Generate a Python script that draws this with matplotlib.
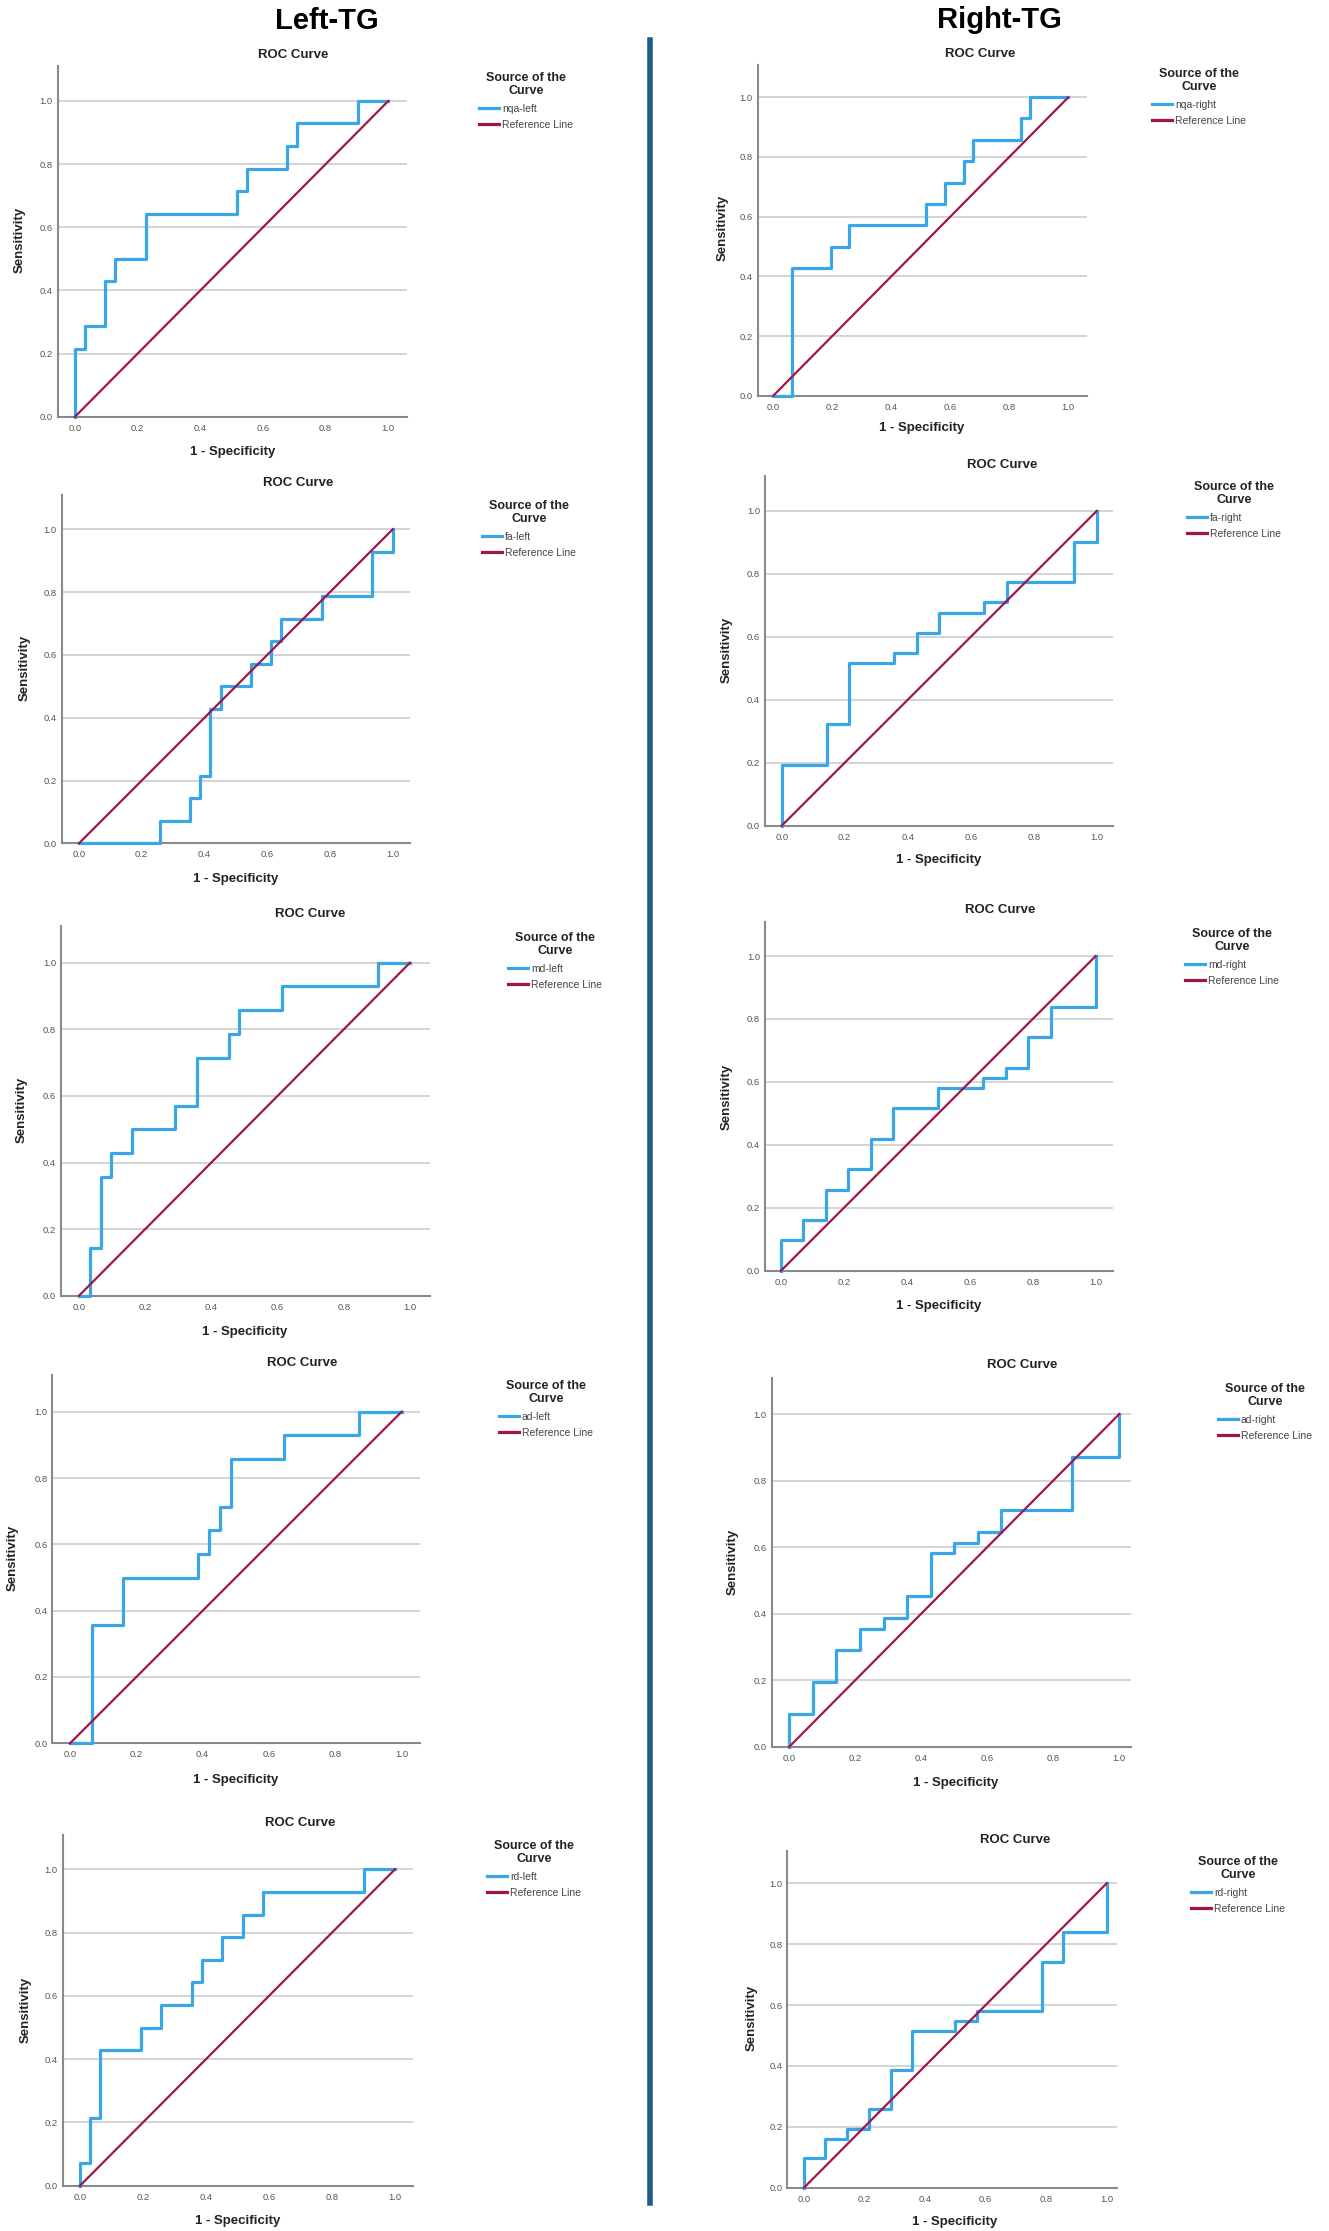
import matplotlib
matplotlib.use('Agg')
import matplotlib.pyplot as plt
from matplotlib.lines import Line2D

plt.rcParams['font.family'] = ['Liberation Sans', 'DejaVu Sans']

W, H = 1329, 2231
blue = '#3aa6e6'
maroon = '#a0154b'

# ROC coordinates (1 - specificity, sensitivity)
nqa_left_fpr = [0, 0, 0.032, 0.032, 0.097, 0.097, 0.129, 0.129, 0.226, 0.226, 0.516, 0.516, 0.548, 0.548, 0.677, 0.677, 0.710, 0.710, 0.903, 0.903, 1.0]
nqa_left_tpr = [0, 0.214, 0.214, 0.286, 0.286, 0.429, 0.429, 0.500, 0.500, 0.643, 0.643, 0.714, 0.714, 0.786, 0.786, 0.857, 0.857, 0.929, 0.929, 1.0, 1.0]

fa_left_fpr = [0, 0.258, 0.258, 0.355, 0.355, 0.387, 0.387, 0.419, 0.419, 0.452, 0.452, 0.548, 0.548, 0.613, 0.613, 0.645, 0.645, 0.774, 0.774, 0.935, 0.935, 1.0, 1.0]
fa_left_tpr = [0, 0, 0.071, 0.071, 0.143, 0.143, 0.214, 0.214, 0.429, 0.429, 0.5, 0.5, 0.571, 0.571, 0.643, 0.643, 0.714, 0.714, 0.786, 0.786, 0.929, 0.929, 1.0]

md_left_fpr = [0, 0.032, 0.032, 0.065, 0.065, 0.097, 0.097, 0.161, 0.161, 0.290, 0.290, 0.355, 0.355, 0.452, 0.452, 0.484, 0.484, 0.613, 0.613, 0.903, 0.903, 1.0]
md_left_tpr = [0, 0, 0.143, 0.143, 0.357, 0.357, 0.429, 0.429, 0.5, 0.5, 0.571, 0.571, 0.714, 0.714, 0.786, 0.786, 0.857, 0.857, 0.929, 0.929, 1.0, 1.0]

ad_left_fpr = [0, 0.065, 0.065, 0.161, 0.161, 0.387, 0.387, 0.419, 0.419, 0.452, 0.452, 0.484, 0.484, 0.645, 0.645, 0.871, 0.871, 1.0]
ad_left_tpr = [0, 0, 0.357, 0.357, 0.5, 0.5, 0.571, 0.571, 0.643, 0.643, 0.714, 0.714, 0.857, 0.857, 0.929, 0.929, 1.0, 1.0]

rd_left_fpr = [0, 0, 0.032, 0.032, 0.065, 0.065, 0.194, 0.194, 0.258, 0.258, 0.355, 0.355, 0.387, 0.387, 0.452, 0.452, 0.516, 0.516, 0.581, 0.581, 0.903, 0.903, 1.0]
rd_left_tpr = [0, 0.071, 0.071, 0.214, 0.214, 0.429, 0.429, 0.5, 0.5, 0.571, 0.571, 0.643, 0.643, 0.714, 0.714, 0.786, 0.786, 0.857, 0.857, 0.929, 0.929, 1.0, 1.0]

nqa_right_fpr = [0, 0.065, 0.065, 0.194, 0.194, 0.258, 0.258, 0.516, 0.516, 0.581, 0.581, 0.645, 0.645, 0.677, 0.677, 0.839, 0.839, 0.871, 0.871, 1.0]
nqa_right_tpr = [0, 0, 0.429, 0.429, 0.5, 0.5, 0.571, 0.571, 0.643, 0.643, 0.714, 0.714, 0.786, 0.786, 0.857, 0.857, 0.929, 0.929, 1.0, 1.0]

fa_right_fpr = [0, 0, 0.143, 0.143, 0.214, 0.214, 0.357, 0.357, 0.429, 0.429, 0.5, 0.5, 0.643, 0.643, 0.714, 0.714, 0.929, 0.929, 1.0, 1.0]
fa_right_tpr = [0, 0.194, 0.194, 0.323, 0.323, 0.516, 0.516, 0.548, 0.548, 0.613, 0.613, 0.677, 0.677, 0.710, 0.710, 0.774, 0.774, 0.903, 0.903, 1.0]

md_right_fpr = [0, 0, 0.071, 0.071, 0.143, 0.143, 0.214, 0.214, 0.286, 0.286, 0.357, 0.357, 0.5, 0.5, 0.643, 0.643, 0.714, 0.714, 0.786, 0.786, 0.857, 0.857, 1.0, 1.0]
md_right_tpr = [0, 0.097, 0.097, 0.161, 0.161, 0.258, 0.258, 0.323, 0.323, 0.419, 0.419, 0.516, 0.516, 0.581, 0.581, 0.613, 0.613, 0.645, 0.645, 0.742, 0.742, 0.839, 0.839, 1.0]

ad_right_fpr = [0, 0, 0.071, 0.071, 0.143, 0.143, 0.214, 0.214, 0.286, 0.286, 0.357, 0.357, 0.429, 0.429, 0.5, 0.5, 0.571, 0.571, 0.643, 0.643, 0.857, 0.857, 1.0, 1.0]
ad_right_tpr = [0, 0.097, 0.097, 0.194, 0.194, 0.290, 0.290, 0.355, 0.355, 0.387, 0.387, 0.452, 0.452, 0.581, 0.581, 0.613, 0.613, 0.645, 0.645, 0.710, 0.710, 0.871, 0.871, 1.0]

rd_right_fpr = [0, 0, 0.071, 0.071, 0.143, 0.143, 0.214, 0.214, 0.286, 0.286, 0.357, 0.357, 0.5, 0.5, 0.571, 0.571, 0.786, 0.786, 0.857, 0.857, 1.0, 1.0]
rd_right_tpr = [0, 0.097, 0.097, 0.161, 0.161, 0.194, 0.194, 0.258, 0.258, 0.387, 0.387, 0.516, 0.516, 0.548, 0.548, 0.581, 0.581, 0.742, 0.742, 0.839, 0.839, 1.0]

names = ['nqa-left', 'fa-left', 'md-left', 'ad-left', 'rd-left',
         'nqa-right', 'fa-right', 'md-right', 'ad-right', 'rd-right']
curves = [(nqa_left_fpr, nqa_left_tpr), (fa_left_fpr, fa_left_tpr), (md_left_fpr, md_left_tpr),
          (ad_left_fpr, ad_left_tpr), (rd_left_fpr, rd_left_tpr),
          (nqa_right_fpr, nqa_right_tpr), (fa_right_fpr, fa_right_tpr), (md_right_fpr, md_right_tpr),
          (ad_right_fpr, ad_right_tpr), (rd_right_fpr, rd_right_tpr)]
ticks = [0.0, 0.2, 0.4, 0.6, 0.8, 1.0]
tick_labels = ['0.0', '0.2', '0.4', '0.6', '0.8', '1.0']

# layout in pixels: axes (left, right, top, bottom, px of x=0, px of x=1, px of y=1)
axes_px = [(57.7, 406.7, 66, 416.7, 75, 388.3, 101),
           (61.7, 410, 495, 843.3, 79, 392.7, 529.3),
           (61, 430, 926, 1295.7, 79, 410, 962.7),
           (52.3, 420, 1375, 1743.3, 70, 401.7, 1411.7),
           (62.7, 413, 1835, 2185.7, 80, 395, 1869.3),
           (757.7, 1086.7, 65, 395.7, 773.3, 1068.3, 97.3),
           (765, 1113, 476, 825.7, 781.7, 1096.7, 511),
           (765, 1113, 921.7, 1270.7, 781, 1095.7, 956),
           (771.7, 1131, 1378, 1746.7, 789.3, 1119.3, 1414),
           (787.3, 1117, 1850.7, 2187.7, 804, 1106.7, 1883.3)]
title_px = [(293, 55), (298, 483), (310, 914), (302, 1363), (300, 1823),
            (980, 54), (1002, 465), (1000, 910), (1022, 1365), (1015, 1840)]
xlabel_px = [(233, 452), (236, 879), (245, 1332), (236, 1780), (238, 2221),
             (922, 428), (939, 860), (939, 1306), (956, 1783), (955, 2222)]
ylabel_px = [(20, 240), (25, 668), (22, 1110), (13, 1558), (26, 2010),
             (723, 228), (727, 650), (727, 1097), (733, 1562), (752, 2018)]
legend_px = [(526, 72), (529, 500), (555, 932), (546, 1380), (534, 1840),
             (1199, 68), (1234, 481), (1232, 928), (1265, 1383), (1238, 1856)]

fig = plt.figure(figsize=(W / 100, H / 100), dpi=100)

for i, name in enumerate(names):
    L, R, T, B, x0, x1, y1 = axes_px[i]
    ax = fig.add_axes([L / W, 1 - B / H, (R - L) / W, (B - T) / H])
    ax.set_xlim((L - x0) / (x1 - x0), (R - x0) / (x1 - x0))
    ax.set_ylim(0, (B - T) / (B - y1))
    ax.set_xticks(ticks)
    ax.set_xticklabels(tick_labels)
    ax.set_yticks(ticks)
    ax.set_yticklabels(tick_labels)
    ax.tick_params(length=0, labelsize=6.8, labelcolor='#555555')
    ax.tick_params(axis='x', pad=5)
    ax.tick_params(axis='y', pad=3.5)
    ax.yaxis.grid(True, color='#d4d4d4', lw=1.4)
    ax.set_axisbelow(True)
    for s in ['top', 'right']:
        ax.spines[s].set_visible(False)
    for s in ['left', 'bottom']:
        ax.spines[s].set_color('#8a8a8a')
        ax.spines[s].set_linewidth(1.5)

    fpr, tpr = curves[i]
    ax.plot(fpr, tpr, color=blue, lw=2.3, clip_on=False, zorder=3)
    ax.plot([0, 1], [0, 1], color=maroon, lw=1.6, clip_on=False, zorder=4)

    tx, ty = title_px[i]
    fig.text(tx / W, 1 - ty / H, 'ROC Curve', ha='center', va='center',
             fontsize=9.5, weight='bold', color='#222222')
    lx, ly = xlabel_px[i]
    fig.text(lx / W, 1 - ly / H, '1 - Specificity', ha='center', va='center',
             fontsize=9.5, weight='bold', color='#222222')
    yx, yy = ylabel_px[i]
    fig.text(yx / W, 1 - yy / H, 'Sensitivity', ha='center', va='center',
             rotation=90, fontsize=9.5, weight='bold', color='#222222')

    gx, gy = legend_px[i]
    handles = [Line2D([], [], color=blue, lw=2.3), Line2D([], [], color=maroon, lw=2.3)]
    leg = fig.legend(handles, [name, 'Reference Line'], loc='upper center',
                     bbox_to_anchor=(gx / W, 1 - gy / H), frameon=False,
                     title='Source of the\nCurve',
                     title_fontproperties={'weight': 'bold', 'size': 9},
                     fontsize=7.5, labelcolor='#444444', handlelength=1.9,
                     handletextpad=0.3, labelspacing=0.6, borderpad=0,
                     borderaxespad=0)
    leg.get_title().set_multialignment('center')
    leg.get_title().set_linespacing(1.15)
    leg.get_title().set_color('#222222')

fig.text(327 / W, 1 - 21 / H, 'Left-TG', ha='center', va='center', fontsize=21, weight='bold')
fig.text(999 / W, 1 - 20 / H, 'Right-TG', ha='center', va='center', fontsize=21, weight='bold')
fig.add_artist(Line2D([650 / W, 650 / W], [1 - 40 / H, 1 - 2203 / H], color='#1c5e88', lw=4))

fig.savefig('out.png', dpi=100)
